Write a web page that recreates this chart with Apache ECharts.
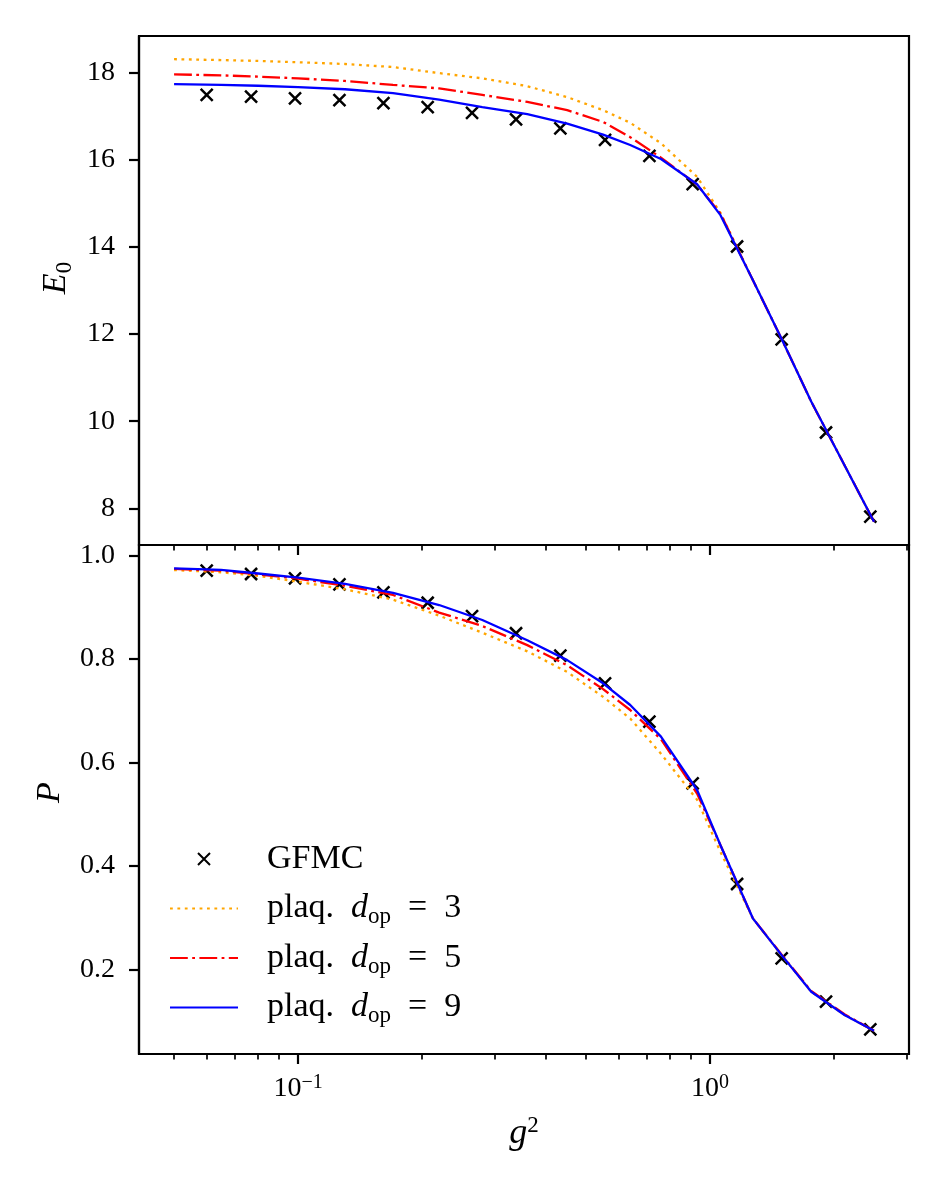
<!DOCTYPE html>
<html>
<head>
<meta charset="utf-8">
<script src="https://cdn.jsdelivr.net/npm/echarts@6/dist/echarts.min.js"></script>
<style>
html,body{margin:0;padding:0;background:#fff;}
#chart{width:946px;height:1186px;}
</style>
</head>
<body>
<div id="chart"></div>
<script>
// GFMC points (g^2, E0, P)
var gfmcX = [0.0600, 0.0769, 0.0983, 0.1260, 0.1611, 0.2063, 0.2644, 0.3381, 0.4331, 0.5560, 0.7124, 0.9073, 1.163, 1.492, 1.912, 2.449];
var gfmcE = [17.49, 17.45, 17.41, 17.37, 17.30, 17.21, 17.08, 16.93, 16.72, 16.46, 16.09, 15.44, 14.01, 11.88, 9.74, 7.81];
var gfmcP = [0.971, 0.9646, 0.9563, 0.9447, 0.9292, 0.909, 0.883, 0.850, 0.8066, 0.7532, 0.679, 0.5598, 0.365, 0.2213, 0.1373, 0.084];

// plaquette curves
var lineX = [0.05, 0.065, 0.08, 0.1, 0.13, 0.17, 0.22, 0.28, 0.36, 0.45, 0.55, 0.64, 0.76, 0.93, 1.06, 1.27, 1.5, 1.76, 2.12, 2.5];
var e3 = [18.31, 18.29, 18.27, 18.24, 18.20, 18.13, 17.99, 17.87, 17.69, 17.44, 17.14, 16.85, 16.38, 15.61, 14.78, 13.24, 11.84, 10.45, 8.99, 7.69];
var e5 = [17.96, 17.94, 17.91, 17.87, 17.81, 17.72, 17.64, 17.49, 17.33, 17.14, 16.87, 16.52, 16.05, 15.43, 14.76, 13.24, 11.84, 10.45, 8.99, 7.69];
var e9 = [17.74, 17.72, 17.70, 17.67, 17.62, 17.53, 17.38, 17.21, 17.05, 16.83, 16.58, 16.34, 16.02, 15.44, 14.73, 13.24, 11.84, 10.45, 8.99, 7.69];
var p3 = [0.9723, 0.968, 0.961, 0.9497, 0.935, 0.915, 0.884, 0.851, 0.815, 0.775, 0.727, 0.685, 0.617, 0.528, 0.427, 0.2986, 0.225, 0.1567, 0.1116, 0.081];
var p5 = [0.9745, 0.971, 0.964, 0.9555, 0.942, 0.924, 0.890, 0.864, 0.827, 0.788, 0.742, 0.7015, 0.645, 0.540, 0.440, 0.2986, 0.226, 0.158, 0.113, 0.081];
var p9 = [0.9756, 0.9725, 0.9656, 0.9578, 0.9453, 0.9279, 0.9046, 0.8756, 0.8364, 0.798, 0.7532, 0.7112, 0.650, 0.5468, 0.440, 0.2986, 0.225, 0.1567, 0.1116, 0.081];

var seriesNames = ['GFMC', 'plaq3', 'plaq5', 'plaq9'];
var legendDop = {'plaq3': '3', 'plaq5': '5', 'plaq9': '9'};

// ticks
var majorTicks = [0.1, 1];
var minorTicks = [0.05, 0.06, 0.07, 0.08, 0.09, 0.2, 0.3, 0.4, 0.5, 0.6, 0.7, 0.8, 0.9, 2, 3];
var eTicks = [8, 10, 12, 14, 16, 18];
var pTicks = [0.2, 0.4, 0.6, 0.8, 1.0];

var FONT = '"Liberation Serif", "DejaVu Serif", serif';
var XMIN = 0.0411, XMAX = 3.04;

function pairs(xs, ys){
	var out = [];
	for(var i=0;i<xs.length;i++){
		out.push([xs[i], ys[i]]);
	}
	return out;
}

var crossPath = 'path://M0,0L10,10M10,0L0,10';

function makeX(grid, minor, labels){
	return {
		type: 'log', gridIndex: grid, position: 'bottom', min: XMIN, max: XMAX, logBase: 10,
		axisLine: {show: !minor, onZero: false, lineStyle: {color: '#000', width: 2.2}},
		axisTick: {show: true, inside: false, customValues: minor ? minorTicks : majorTicks, length: minor ? 5.6 : 10,
			lineStyle: {color: '#000', width: minor ? 1.7 : 2.2}},
		axisLabel: {show: labels, customValues: majorTicks, margin: 19, color: '#000',
			formatter: function(v){
				var e = Math.round(Math.log10(v));
				return '{b|10}{sup|' + (e < 0 ? '\u2212' + (-e) : e) + '}';
			},
			rich: {
				b: {fontFamily: FONT, fontSize: 28, lineHeight: 32, color: '#000'},
				sup: {fontFamily: FONT, fontSize: 20, lineHeight: 20, verticalAlign: 'top', color: '#000'}
			}
		},
		splitLine: {show: false},
		minorTick: {show: false}
	};
}

function makeY(grid, min, max, ticks, name, gap, pad){
	return {
		type: 'value', gridIndex: grid, position: 'left', min: min, max: max,
		axisLine: {show: true, onZero: false, lineStyle: {color: '#000', width: 2.2}},
		axisTick: {show: true, customValues: ticks, length: 10, lineStyle: {color: '#000', width: 2.2}},
		axisLabel: {customValues: ticks, margin: 24, fontFamily: FONT, fontSize: 28, color: '#000',
			formatter: function(v){ return grid === 1 ? v.toFixed(1) : String(v); }},
		splitLine: {show: false},
		name: name, nameLocation: 'middle', nameRotate: 90, nameGap: gap,
		nameTextStyle: {
			padding: pad,
			rich: {
				i: {fontFamily: FONT, fontStyle: 'italic', fontSize: 34, lineHeight: 40, color: '#000'},
				sub: {fontFamily: FONT, fontSize: 23, lineHeight: 24, verticalAlign: 'bottom', color: '#000'}
			}
		}
	};
}

var xAxes = [makeX(0, false, false), makeX(0, true, false), makeX(1, false, true), makeX(1, true, false)];
xAxes[2].name = '{i|g}{sup|2}';
xAxes[2].nameLocation = 'middle';
xAxes[2].nameGap = 60;
xAxes[2].nameTextStyle = {
	rich: {
		i: {fontFamily: FONT, fontStyle: 'italic', fontSize: 36, lineHeight: 40, color: '#000'},
		sup: {fontFamily: FONT, fontSize: 23, lineHeight: 24, verticalAlign: 'top', color: '#000'}
	}
};

var yAxes = [
	makeY(0, 7.1575, 18.8425, eTicks, '{i|E}{sub|0}', 59, [0, 0, 0, 25]),
	makeY(1, 0.0362, 1.0207, pTicks, '{i|P}', 69, [0, 0, 0, 14])
];

function lineSeries(name, xi, yi, ys, color, dash){
	return {
		name: name, type: 'line', xAxisIndex: xi, yAxisIndex: yi,
		data: pairs(lineX, ys), symbol: 'none', smooth: false,
		lineStyle: {color: color, width: 2.3, type: dash},
		itemStyle: {color: color}
	};
}
function gfmcSeries(xi, yi, ys){
	return {
		name: 'GFMC', type: 'scatter', xAxisIndex: xi, yAxisIndex: yi,
		data: pairs(gfmcX, ys), symbol: crossPath, symbolSize: 12,
		itemStyle: {color: 'rgba(0,0,0,0)', borderColor: '#000', borderWidth: 2.5, opacity: 1}
	};
}

var DOT = [2.8, 4.6];
var DASHDOT = [17.8, 4.4, 2.8, 4.4];

var hiddenDot = {color: 'rgba(0,0,0,0)', borderColor: 'rgba(0,0,0,0)', borderWidth: 0, opacity: 0};
var legendData = seriesNames.map(function(n){
	return n === 'GFMC' ? {name: n} : {name: n, itemStyle: hiddenDot};
});

var option = {
	animation: false,
	backgroundColor: '#fff',
	grid: [
		{left: 139, top: 36, width: 770, height: 509, show: true, borderColor: '#000', borderWidth: 2.2, outerBoundsMode: 'none'},
		{left: 139, top: 545, width: 770, height: 509, show: true, borderColor: '#000', borderWidth: 2.2, outerBoundsMode: 'none'}
	],
	xAxis: xAxes,
	yAxis: yAxes,
	legend: {
		data: legendData,
		orient: 'vertical', left: 169, top: 839, padding: 0,
		itemWidth: 68, itemHeight: 12, itemGap: 9.5,
		selectedMode: false,
		formatter: function(n){
			if(n === 'GFMC') return '{sp| }{t|GFMC}';
			return '{sp| }{t|plaq.\u2002}{i|d}{sub|op}{t|\u2002=\u2002' + legendDop[n] + '}';
		},
		textStyle: {
			fontFamily: FONT, fontSize: 34, lineHeight: 40, color: '#000',
			rich: {
				sp: {width: 24, fontSize: 34, lineHeight: 40},
				t: {fontFamily: FONT, fontSize: 34, lineHeight: 40, color: '#000'},
				i: {fontFamily: FONT, fontStyle: 'italic', fontSize: 34, lineHeight: 40, color: '#000'},
				sub: {fontFamily: FONT, fontSize: 23, lineHeight: 24, verticalAlign: 'bottom', color: '#000'}
			}
		}
	},
	series: [
		gfmcSeries(0, 0, gfmcE),
		lineSeries('plaq3', 0, 0, e3, '#FFA500', DOT),
		lineSeries('plaq5', 0, 0, e5, '#FF0000', DASHDOT),
		lineSeries('plaq9', 0, 0, e9, '#0000FF', 'solid'),
		gfmcSeries(2, 1, gfmcP),
		lineSeries('plaq3', 2, 1, p3, '#FFA500', DOT),
		lineSeries('plaq5', 2, 1, p5, '#FF0000', DASHDOT),
		lineSeries('plaq9', 2, 1, p9, '#0000FF', 'solid')
	]
};

var myChart = echarts.init(document.getElementById('chart'), null, {renderer: 'canvas'});
myChart.setOption(option);
</script>
</body>
</html>
